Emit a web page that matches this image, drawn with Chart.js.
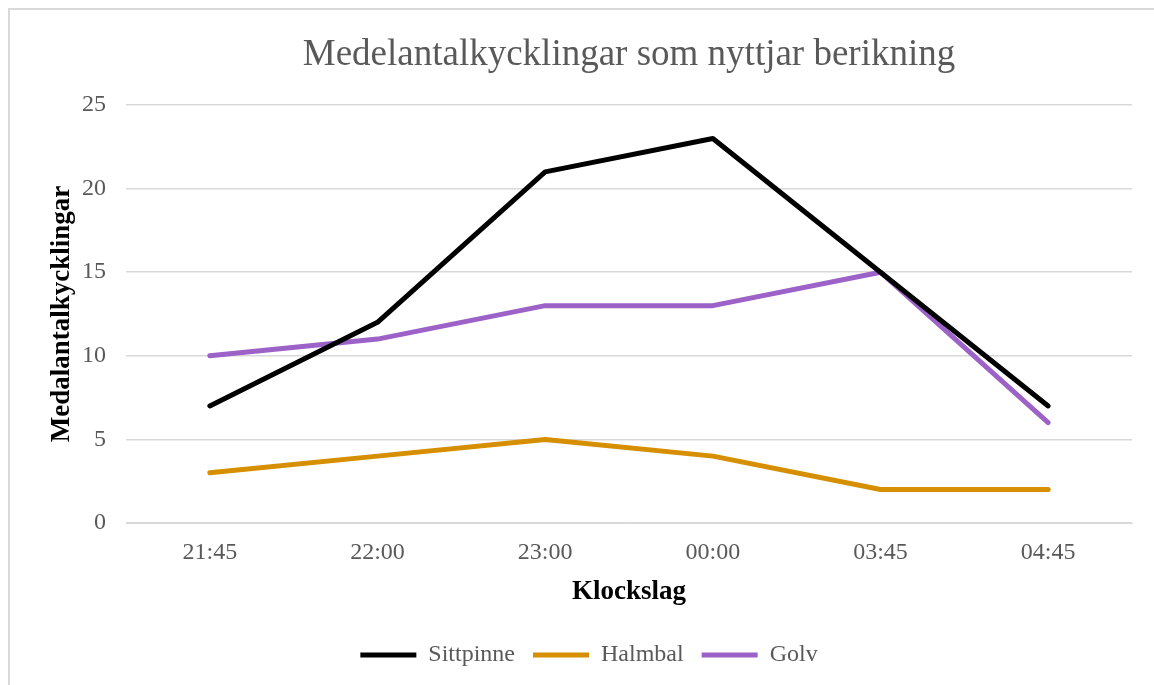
<!DOCTYPE html>
<html>
<head>
<meta charset="utf-8">
<script src="https://cdn.jsdelivr.net/npm/chart.js@4/dist/chart.umd.min.js"></script>
<style>
  html, body { margin: 0; padding: 0; background: #fff; }
  #ram { position: relative; width: 1154px; height: 685px; overflow: hidden; }
  #kant { position: absolute; left: 8px; top: 8px; right: -10px; bottom: -10px;
          border-top: 2px solid #d9d9d9; border-left: 2px solid #d9d9d9; }
  #graf { position: absolute; left: 0; top: 0; }
</style>
</head>
<body>
<div id="ram">
  <div id="kant"></div>
  <canvas id="graf" width="1154" height="685"></canvas>
</div>
<script>
// klockslag och medelvärden
const klockslag = ['21:45', '22:00', '23:00', '00:00', '03:45', '04:45'];
const sittpinne = [7, 12, 21, 23, 15, 7];
const halmbal = [3, 4, 5, 4, 2, 2];
const golv = [10, 11, 13, 13, 15, 6];

const rubrik = 'Medelantalkycklingar som nyttjar berikning';
const grå = '#595959';
const typsnitt = '"Liberation Serif", "Times New Roman", serif';

function serie(namn, data, farg) {
    return {
        label: namn,
        data: data,
        borderColor: farg,
        backgroundColor: farg,
        borderWidth: 5,
        borderCapStyle: 'round',
        borderJoinStyle: 'round',
        pointRadius: 0,
        tension: 0
    };
}

// rubriken centreras över ritytan (inte hela canvasen)
const rubrikPlugin = {
    id: 'rubrik',
    afterDraw(chart) {
        const ctx = chart.ctx;
        const a = chart.chartArea;
        ctx.save();
        ctx.font = '37px ' + typsnitt;
        ctx.fillStyle = grå;
        ctx.textAlign = 'center';
        ctx.textBaseline = 'middle';
        ctx.fillText(rubrik, (a.left + a.right) / 2, 55);
        ctx.restore();
    }
};

new Chart(document.getElementById('graf'), {
    type: 'line',
    data: {
        labels: klockslag,
        datasets: [
            serie('Sittpinne', sittpinne, '#000000'),
            serie('Halmbal', halmbal, '#d58f00'),
            serie('Golv', golv, '#9c62c8')
        ]
    },
    options: {
        responsive: false,
        animation: false,
        layout: { padding: { left: 46, right: 22, top: 105, bottom: 8 } },
        plugins: {
            title: { display: false },
            legend: {
                position: 'bottom',
                labels: {
                    color: grå,
                    font: { family: typsnitt, size: 24 },
                    usePointStyle: true,
                    pointStyle: 'line',
                    pointStyleWidth: 56,
                    boxHeight: 20,
                    padding: 18
                }
            },
            tooltip: { enabled: false }
        },
        scales: {
            x: {
                offset: true,
                grid: { display: false },
                border: { color: '#d9d9d9', width: 1 },
                ticks: { color: grå, font: { family: typsnitt, size: 24 }, padding: 7 },
                title: {
                    display: true,
                    text: 'Klockslag',
                    color: '#000',
                    font: { family: typsnitt, size: 27, weight: 'bold' },
                    padding: { top: 4, bottom: 17 }
                },
                afterFit: function (s) { s.height = 102; }
            },
            y: {
                min: 0,
                max: 25,
                ticks: { stepSize: 5, color: grå, font: { family: typsnitt, size: 24 }, padding: 20 },
                grid: { color: '#d9d9d9', lineWidth: 1.5, drawTicks: false },
                border: { display: false },
                title: {
                    display: true,
                    text: 'Medalantalkycklingar',
                    color: '#000',
                    font: { family: typsnitt, size: 27, weight: 'bold' },
                    padding: { top: 0, bottom: 4 }
                },
                afterFit: function (s) { s.width = 80; }
            }
        }
    },
    plugins: [rubrikPlugin]
});
</script>
</body>
</html>
